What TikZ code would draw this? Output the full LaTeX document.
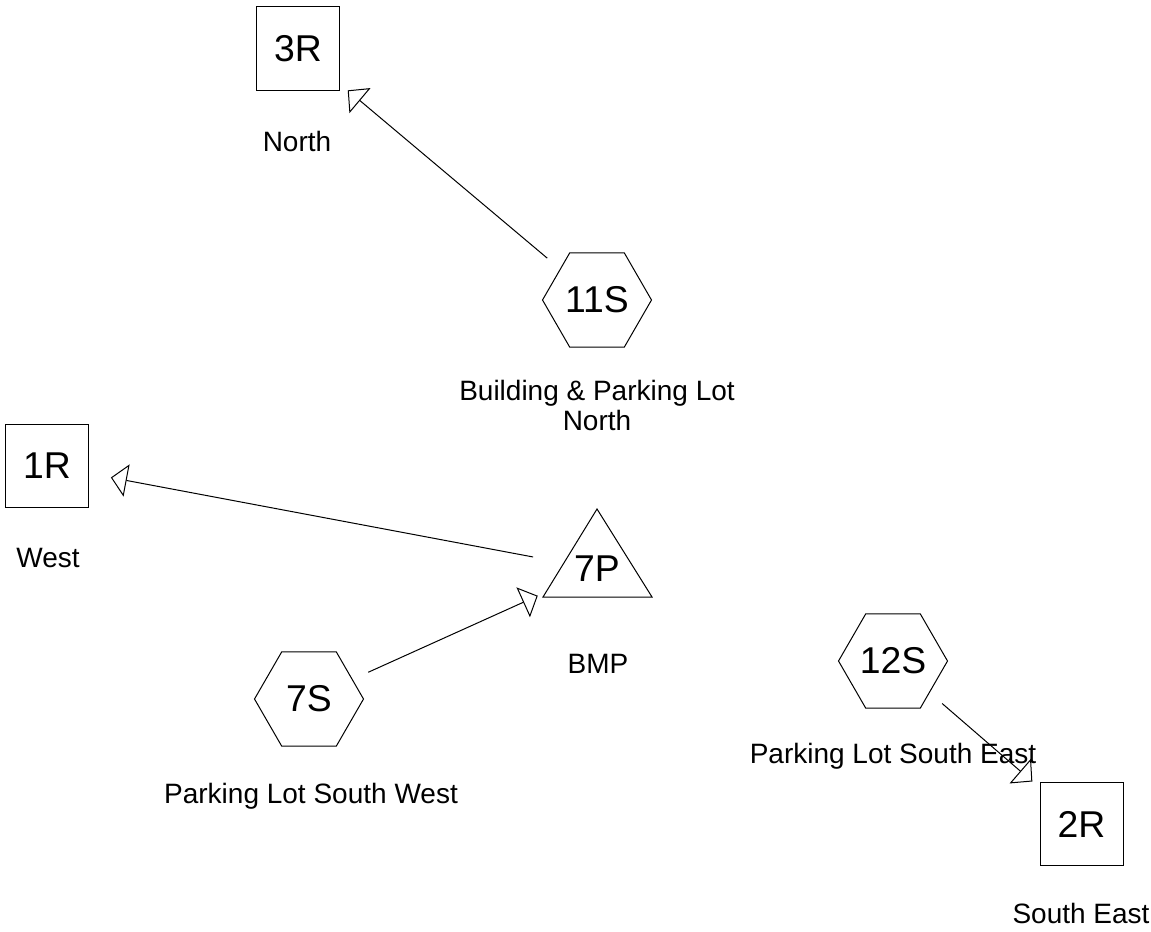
\documentclass[tikz,border=0pt]{standalone}
\usepackage{fontspec}
\setmainfont{Liberation Sans}
\usetikzlibrary{arrows.meta,shapes.geometric}
\newcommand{\dgBig}{\fontsize{28}{34}\selectfont}
\newcommand{\dgLbl}{\fontsize{21}{22.5}\selectfont}
\begin{document}
\begin{tikzpicture}[x=0.75pt,y=-0.75pt,
  shapeline/.style={draw=black,line width=0.75pt},
  boxnode/.style={shapeline,rectangle,minimum width=62.25pt,minimum height=62.25pt,inner sep=0pt,font=\dgBig},
  hexnode/.style={shapeline,regular polygon,regular polygon sides=6,minimum size=81.75pt,inner sep=0pt,font=\dgBig},
  tritext/.style={inner sep=0pt,font=\dgBig},
  lbl/.style={inner sep=0pt,font=\dgLbl,anchor=base},
  conn/.style={line width=0.75pt,-{Triangle[open,length=12pt,width=24.5pt]},shorten <=48.75pt,shorten >=48.75pt}]
\useasboundingbox (0,0) rectangle (1151,931);
% nodes
\node[boxnode] (3R) at (298,48.5) {3R};
\node[boxnode] (1R) at (47,465.5) {1R};
\node[boxnode] (2R) at (1081.5,824) {2R};
\node[hexnode] (11S) at (597,300) {11S};
\node[hexnode] (7S) at (309,699) {7S};
\node[hexnode] (12S) at (893,661) {12S};
\node[tritext] (7P) at (597,569) {7P};
\draw[shapeline] ([shift={(0,-60)}]7P.center) -- ++(55,88) -- ++(-109,0) -- cycle;
% labels
\node[lbl] (l3R) at (297,151) {North};
\node[inner sep=0pt,font=\dgLbl,align=center,anchor=north] (l11S) at (597,379.5) {Building \& Parking Lot\\North};
\node[lbl] (l1R) at (48,567) {West};
\node[lbl] (l7P) at (598,673) {BMP};
\node[lbl] (l7S) at (311,803) {Parking Lot South West};
\node[lbl] (l12S) at (893,763) {Parking Lot South East};
\node[lbl] (l2R) at (1081,923) {South East};
% connectors
\draw[conn] (11S.center) -- (3R.center);
\draw[conn] (7P.center) -- (1R.center);
\draw[conn] (7S.center) -- (7P.center);
\draw[conn] (12S.center) -- (2R.center);
\end{tikzpicture}
\end{document}
